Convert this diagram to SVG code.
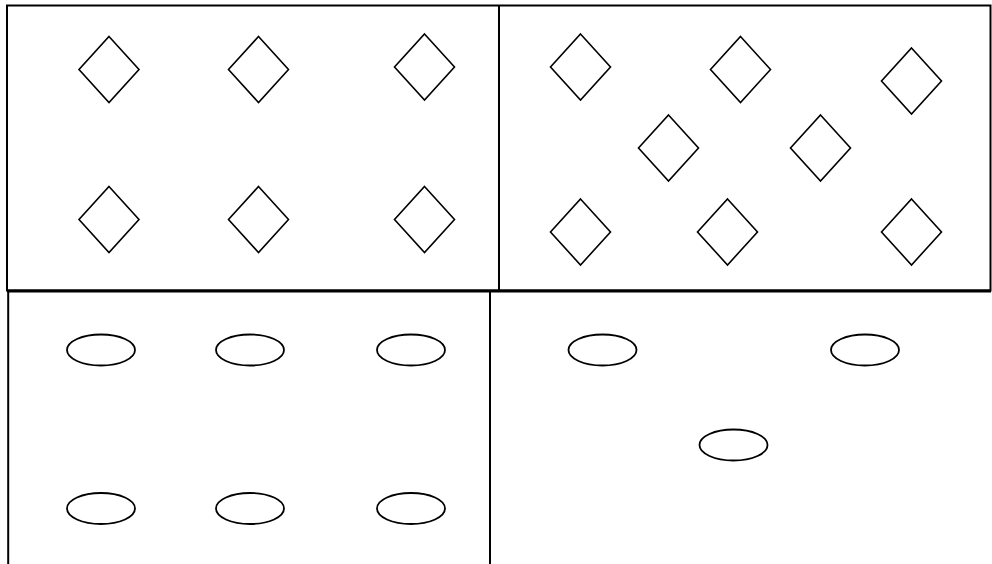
<svg xmlns="http://www.w3.org/2000/svg" width="992" height="564" viewBox="0 0 992 564">
<style>
.frame{fill:none;stroke:#000;stroke-width:2}
.d{fill:#fff;stroke:#000;stroke-width:1.6}
.e{fill:#fff;stroke:#000;stroke-width:1.8}
</style>
<defs>
<polygon id="dia" points="0,-33 30,0 0,33 -30,0"/>
<ellipse id="ell" cx="0" cy="0" rx="34" ry="15.5"/>
</defs>
<rect width="992" height="564" fill="#fff"/>
<g id="frames">
<rect class="frame" x="7" y="5.5" width="983.5" height="285"/>
<line class="frame" x1="499" y1="5.5" x2="499" y2="290.5"/>
<line class="frame" x1="7" y1="291" x2="991" y2="291" style="stroke-width:3"/>
<line class="frame" x1="8.2" y1="291" x2="8.2" y2="564"/>
<line class="frame" x1="490" y1="291" x2="490" y2="564"/>
</g>
<g id="connectors"></g>
<g id="d1" class="d"><use href="#dia" x="109" y="69.5"/></g>
<g id="d2" class="d"><use href="#dia" x="258.5" y="69.5"/></g>
<g id="d3" class="d"><use href="#dia" x="424.5" y="67"/></g>
<g id="d4" class="d"><use href="#dia" x="109" y="219.5"/></g>
<g id="d5" class="d"><use href="#dia" x="258.5" y="219.5"/></g>
<g id="d6" class="d"><use href="#dia" x="424.5" y="219.5"/></g>
<g id="d7" class="d"><use href="#dia" x="580.5" y="67"/></g>
<g id="d8" class="d"><use href="#dia" x="740.5" y="69.5"/></g>
<g id="d9" class="d"><use href="#dia" x="911.5" y="81"/></g>
<g id="d10" class="d"><use href="#dia" x="668.5" y="148"/></g>
<g id="d11" class="d"><use href="#dia" x="820.5" y="148"/></g>
<g id="d12" class="d"><use href="#dia" x="580.5" y="232"/></g>
<g id="d13" class="d"><use href="#dia" x="727.5" y="232"/></g>
<g id="d14" class="d"><use href="#dia" x="911.5" y="232"/></g>
<g id="e1" class="e"><use href="#ell" x="101" y="350"/></g>
<g id="e2" class="e"><use href="#ell" x="250" y="350"/></g>
<g id="e3" class="e"><use href="#ell" x="411" y="350"/></g>
<g id="e4" class="e"><use href="#ell" x="101" y="508.5"/></g>
<g id="e5" class="e"><use href="#ell" x="250" y="508.5"/></g>
<g id="e6" class="e"><use href="#ell" x="411" y="508.5"/></g>
<g id="e7" class="e"><use href="#ell" x="602.5" y="350"/></g>
<g id="e8" class="e"><use href="#ell" x="865" y="350"/></g>
<g id="e9" class="e"><use href="#ell" x="733.5" y="445"/></g>
</svg>
